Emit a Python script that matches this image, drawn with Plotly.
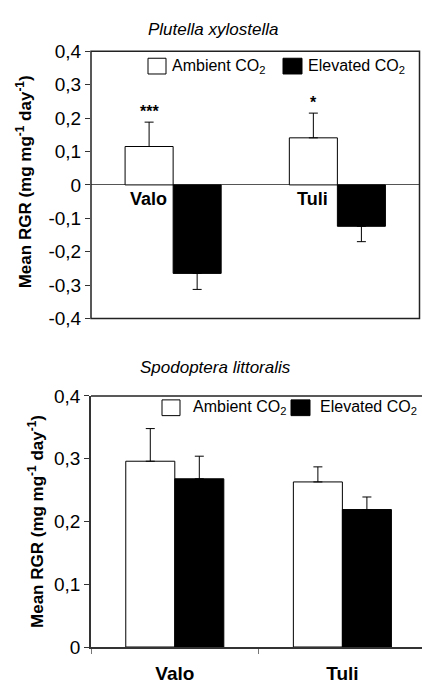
import plotly.graph_objects as go

# ---------------- data ----------------
categories = ["Valo", "Tuli"]

plutella_ambient = [0.115, 0.141]
plutella_ambient_se = [0.073, 0.074]
plutella_elevated = [-0.265, -0.124]
plutella_elevated_se = [0.048, 0.046]
plutella_significance = ["***", "*"]

spodoptera_ambient = [0.296, 0.263]
spodoptera_ambient_se = [0.052, 0.024]
spodoptera_elevated = [0.268, 0.219]
spodoptera_elevated_se = [0.036, 0.020]

top_tickvals = [-0.4, -0.3, -0.2, -0.1, 0, 0.1, 0.2, 0.3, 0.4]
top_ticktext = ["-0,4", "-0,3", "-0,2", "-0,1", "0", "0,1", "0,2", "0,3", "0,4"]
bottom_tickvals = [0, 0.1, 0.2, 0.3, 0.4]
bottom_ticktext = ["0", "0,1", "0,2", "0,3", "0,4"]

series_names = ["Ambient CO<sub>2</sub>", "Elevated CO<sub>2</sub>"]
titles = ["<i>Plutella xylostella</i>", "<i>Spodoptera littoralis</i>"]
ytitle = "<b>Mean RGR (mg mg<sup>-1</sup> day<sup>-1</sup>)</b>"

# ---------------- layout helpers ----------------
W, H = 422, 684
L, R, T, B = 91, 0, 0, 37
pw, ph = W - L - R, H - T - B
FONT = "Liberation Sans, Arial, sans-serif"


def px(x):
    return (x - L) / pw


def py(y):
    return (H - B - y) / ph


fig = go.Figure()


def err(arr_up, arr_down):
    return dict(type="data", symmetric=False, array=arr_up, arrayminus=arr_down,
                color="black", thickness=1, width=4.5)


zeros = [0] * len(categories)

# Top panel
fig.add_trace(go.Bar(x=categories, y=plutella_ambient, name="Ambient",
                     marker=dict(color="white", line=dict(color="black", width=1)),
                     error_y=err(plutella_ambient_se, zeros),
                     xaxis="x", yaxis="y", showlegend=False))
fig.add_trace(go.Bar(x=categories, y=plutella_elevated, name="Elevated",
                     marker=dict(color="black", line=dict(color="black", width=1)),
                     error_y=err(zeros, plutella_elevated_se),
                     xaxis="x", yaxis="y", showlegend=False))
# Bottom panel
fig.add_trace(go.Bar(x=categories, y=spodoptera_ambient, name="Ambient",
                     marker=dict(color="white", line=dict(color="black", width=1)),
                     error_y=err(spodoptera_ambient_se, zeros),
                     xaxis="x2", yaxis="y2", showlegend=False))
fig.add_trace(go.Bar(x=categories, y=spodoptera_elevated, name="Elevated",
                     marker=dict(color="black", line=dict(color="black", width=1)),
                     error_y=err(spodoptera_elevated_se, zeros),
                     xaxis="x2", yaxis="y2", showlegend=False))

tickfont = dict(family=FONT, size=19, color="black")

fig.update_layout(
    width=W, height=H,
    margin=dict(l=L, r=R, t=T, b=B),
    paper_bgcolor="white", plot_bgcolor="white",
    barmode="group", bargap=0.415, bargroupgap=0,
    font=dict(family=FONT, color="black"),
    xaxis=dict(domain=[0, px(419.5)], anchor="y", type="category", range=[-0.5, 1.5],
               showline=False, showticklabels=False, ticks="", showgrid=False, zeroline=False),
    yaxis=dict(domain=[py(313.3), py(42)], anchor="x", range=[-0.4, 0.4],
               tickvals=top_tickvals, ticktext=top_ticktext, tickfont=tickfont,
               ticks="outside", ticklen=5, tickcolor="#333", showgrid=False,
               showline=False, zeroline=True, zerolinecolor="#555", zerolinewidth=1),
    xaxis2=dict(domain=[0, 1], anchor="y2", type="category", range=[-0.5, 1.475],
                showline=True, linecolor="#333", linewidth=1.5,
                ticks="outside", tickson="boundaries", ticklen=5, tickcolor="#777",
                tickfont=dict(family=FONT, size=19, color="black", weight="bold"),
                ticklabelstandoff=8, showgrid=False, zeroline=False),
    yaxis2=dict(domain=[0, py(392)], anchor="x2", range=[0, 0.4],
                tickvals=bottom_tickvals, ticktext=bottom_ticktext, tickfont=tickfont,
                ticks="outside", ticklen=5, tickcolor="#333", showgrid=False,
                showline=True, linecolor="#333", linewidth=1.5, zeroline=False),
)

shapes = []
# top panel frame
shapes.append(dict(type="rect", xref="x domain", yref="y domain", x0=0, x1=1, y0=0, y1=1,
                   line=dict(color="#222", width=1.5), fillcolor="rgba(0,0,0,0)"))
# bottom panel top border
shapes.append(dict(type="line", xref="x2 domain", yref="y2 domain", x0=0, x1=1, y0=1, y1=1,
                   line=dict(color="#222", width=1.5)))

annotations = []
# panel titles
annotations.append(dict(text=titles[0], x=px(213), y=py(20), xref="paper", yref="paper",
                        xanchor="center", yanchor="middle",
                        showarrow=False, font=dict(family=FONT, size=17, color="black")))
annotations.append(dict(text=titles[1], x=px(215), y=py(363), xref="paper", yref="paper",
                        xanchor="center", yanchor="middle",
                        showarrow=False, font=dict(family=FONT, size=17, color="black")))
# y-axis titles
annotations.append(dict(text=ytitle, x=px(24), y=py(175), xref="paper", yref="paper",
                        xanchor="center", yanchor="middle", textangle=-90,
                        showarrow=False, font=dict(family=FONT, size=17, color="black")))
annotations.append(dict(text=ytitle, x=px(36), y=py(520), xref="paper", yref="paper",
                        xanchor="center", yanchor="middle", textangle=-90,
                        showarrow=False, font=dict(family=FONT, size=17, color="black")))

# legends (custom boxes)
legend_specs = [
    [(148, 166, 49, 65, 170), (283, 302, 49, 65, 306)],
    [(162, 180, 396, 412, 191), (291, 310, 396, 412, 318)],
]
fills = ["white", "black"]
for panel in legend_specs:
    for k, (x0, x1, y0, y1, tx) in enumerate(panel):
        shapes.append(dict(type="rect", xref="paper", yref="paper",
                           x0=px(x0), x1=px(x1), y0=py(y1), y1=py(y0),
                           line=dict(color="black", width=1), fillcolor=fills[k]))
        annotations.append(dict(text=series_names[k], x=px(tx), y=py((y0 + y1) / 2),
                                xref="paper", yref="paper", xanchor="left", yanchor="middle",
                                showarrow=False, font=dict(family=FONT, size=16, color="black")))

# category labels in top panel (below zero line, under ambient bars) and significance stars
for i, c in enumerate(categories):
    annotations.append(dict(text="<b>%s</b>" % c, x=c, y=0, xref="x", yref="y",
                            xanchor="center", xshift=-25, yshift=-2, yanchor="top",
                            showarrow=False, font=dict(family=FONT, size=18, color="black")))
    annotations.append(dict(text="<b>%s</b>" % plutella_significance[i], x=c,
                            y=plutella_ambient[i] + plutella_ambient_se[i],
                            xref="x", yref="y", xanchor="center", xshift=-24, yshift=0,
                            yanchor="bottom", showarrow=False,
                            font=dict(family=FONT, size=16, color="black")))

fig.update_layout(shapes=shapes, annotations=annotations)

fig.write_html("out.html", config={"displayModeBar": False},
               post_script="document.body.style.margin='0';document.body.style.overflow='hidden';")
